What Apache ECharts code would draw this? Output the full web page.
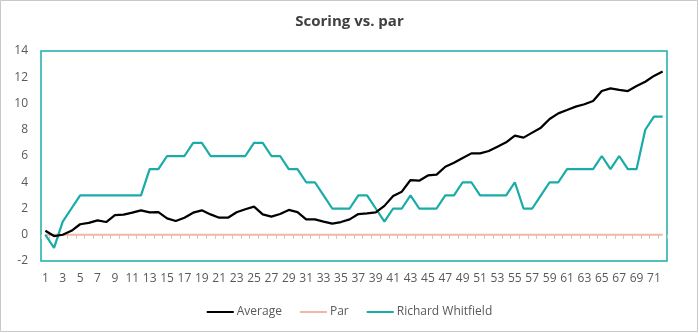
<!DOCTYPE html>
<html>
<head>
<meta charset="utf-8">
<script src="https://cdn.jsdelivr.net/npm/echarts@6/dist/echarts.min.js"></script>
<style>
  html, body { margin: 0; padding: 0; background: #fff; }
  #chart { width: 699px; height: 333px; }
</style>
</head>
<body>
<div id="chart"></div>
<script>
// Holes 1..72
const holes = Array.from({ length: 72 }, (_, i) => String(i + 1));

// Cumulative score relative to par, field average
const average = [
  0.3, -0.1, 0.0, 0.3, 0.8, 0.9, 1.1, 0.97, 1.5, 1.53,
  1.68, 1.86, 1.71, 1.73, 1.25, 1.05, 1.3, 1.68, 1.86, 1.55,
  1.3, 1.3, 1.71, 1.94, 2.14, 1.55, 1.38, 1.58, 1.89, 1.73,
  1.17, 1.17, 1.0, 0.85, 0.97, 1.17, 1.58, 1.63, 1.7, 2.2,
  2.95, 3.28, 4.17, 4.12, 4.52, 4.58, 5.18, 5.49, 5.85, 6.2,
  6.2, 6.38, 6.71, 7.04, 7.55, 7.4, 7.78, 8.16, 8.82, 9.25,
  9.5, 9.76, 9.94, 10.19, 10.95, 11.15, 11.03, 10.95, 11.33, 11.66,
  12.1, 12.43
];

// Par reference line
const par = holes.map(() => 0);

// Cumulative score relative to par, Richard Whitfield
const richard = [
  0, -1, 1, 2, 3, 3, 3, 3, 3, 3,
  3, 3, 5, 5, 6, 6, 6, 7, 7, 6,
  6, 6, 6, 6, 7, 7, 6, 6, 5, 5,
  4, 4, 3, 2, 2, 2, 3, 3, 2, 1,
  2, 2, 3, 2, 2, 2, 3, 3, 4, 4,
  3, 3, 3, 3, 4, 2, 2, 3, 4, 4,
  5, 5, 5, 5, 6, 5, 6, 5, 5, 8,
  9, 9
];

const yTicks = { min: -2, max: 14, step: 2 };

const FONT = '"Open Sans", "Noto Sans", sans-serif';
const TEAL = '#1AACA8';

// Plot box in pixels
const PLOT = { left: 41, right: 32, top: 51, bottom: 72 };
const plotH = 333 - PLOT.top - PLOT.bottom;
// distance of the zero line from the bottom of the plot box
const zeroOffset = plotH * (0 - yTicks.min) / (yTicks.max - yTicks.min);

const chart = echarts.init(document.getElementById('chart'), null, { renderer: 'canvas' });

chart.setOption({
  animation: false,
  backgroundColor: '#ffffff',
  textStyle: { fontFamily: FONT },
  title: {
    text: 'Scoring vs. par',
    left: 'center',
    top: 9,
    textStyle: { fontFamily: FONT, fontSize: 15, fontWeight: 'bold', color: '#404040' }
  },
  graphic: [{
    type: 'rect',
    shape: { x: 0.5, y: 0.5, width: 697, height: 331 },
    style: { fill: 'none', stroke: '#c8c8c8', lineWidth: 1 },
    silent: true
  }],
  legend: {
    bottom: 10,
    left: 'center',
    itemWidth: 27,
    itemHeight: 2,
    itemGap: 18,
    icon: 'rect',
    textStyle: { fontFamily: FONT, fontSize: 12, color: '#595959', padding: [0, 0, 0, -2] },
    data: ['Average', 'Par', 'Richard Whitfield']
  },
  grid: [
    {
      left: PLOT.left, right: PLOT.right, top: PLOT.top, bottom: PLOT.bottom,
      show: true,
      borderColor: TEAL,
      borderWidth: 1.5,
      backgroundColor: 'transparent'
    },
    {
      // same width, bottom edge sits on the zero line: carries the category ticks
      left: PLOT.left, right: PLOT.right, top: PLOT.top,
      bottom: PLOT.bottom + zeroOffset,
      show: false
    }
  ],
  xAxis: [
    {
      type: 'category',
      gridIndex: 0,
      data: holes,
      boundaryGap: true,
      axisLine: { show: false, onZero: false },
      axisTick: { show: false },
      axisLabel: {
        interval: 1,
        margin: 12,
        fontFamily: FONT,
        fontSize: 12,
        color: '#595959'
      },
      splitLine: { show: false }
    },
    {
      type: 'category',
      gridIndex: 1,
      data: holes,
      boundaryGap: true,
      axisLine: { show: false, onZero: false },
      axisTick: { show: true, length: 4, interval: 0, lineStyle: { color: '#c8c8c8' } },
      axisLabel: { show: false },
      splitLine: { show: false }
    }
  ],
  yAxis: [
    {
      type: 'value',
      gridIndex: 0,
      min: yTicks.min,
      max: yTicks.max,
      interval: yTicks.step,
      axisLine: { show: false },
      axisTick: { show: false },
      splitLine: { show: false },
      axisLabel: { margin: 13, fontFamily: FONT, fontSize: 12, color: '#595959' }
    },
    {
      type: 'value',
      gridIndex: 1,
      show: false,
      min: 0,
      max: 1
    }
  ],
  series: [
    {
      name: 'Par',
      type: 'line',
      data: par,
      symbol: 'none',
      z: 2,
      lineStyle: { color: '#F4B6A4', width: 2 },
      itemStyle: { color: '#F4B6A4' }
    },
    {
      name: 'Average',
      type: 'line',
      data: average,
      symbol: 'none',
      z: 4,
      lineStyle: { color: '#000000', width: 2.25 },
      itemStyle: { color: '#000000' }
    },
    {
      name: 'Richard Whitfield',
      type: 'line',
      data: richard,
      symbol: 'none',
      z: 3,
      lineStyle: { color: TEAL, width: 2.25 },
      itemStyle: { color: TEAL }
    }
  ]
});
</script>
</body>
</html>
